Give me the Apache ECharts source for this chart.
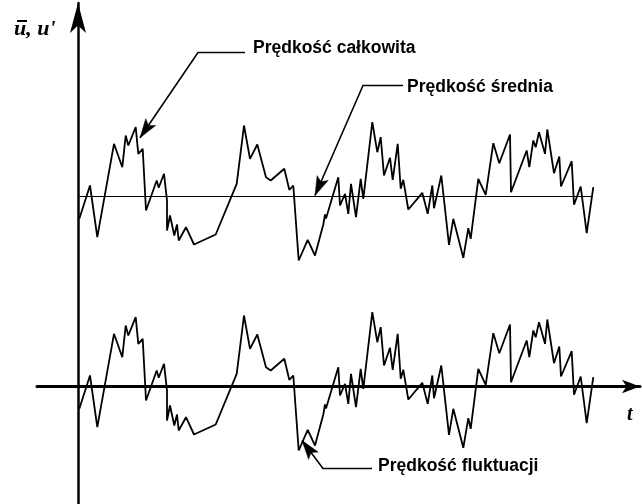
<!DOCTYPE html>
<html>
<head>
<meta charset="utf-8">
<script src="https://cdn.jsdelivr.net/npm/echarts@6/dist/echarts.min.js"></script>
<style>html,body{margin:0;padding:0;background:#fff}#c{width:642px;height:504px}</style>
</head>
<body>
<div id="c"></div>
<script>
// time samples (arbitrary units)
var times = [1.3, 12, 19.3, 36, 44.3, 47.7, 50.3, 57.7, 60.3, 64.7, 68, 78.7, 80.7, 86, 89, 89, 92, 96.3, 99, 100.7,
  108, 116, 137.7, 158.7, 166, 172, 179.3, 188, 192.7, 206.3, 211.3, 215.3, 220.7, 229.7, 237, 245.3, 247, 248,
  260.3, 262, 267, 270.3, 273, 278, 282.7, 285.3, 294.3, 299.3, 302.7, 306, 312, 314.7, 319.7, 322.7, 325.3,
  330.3, 344.3, 349.7, 354.3, 356, 363.3, 371, 375.3, 385.3, 390.3, 392.7, 400.3, 407.7, 415.3, 421.3, 432, 433,
  448.7, 451.3, 455.3, 457.7, 461, 467, 469.3, 476, 481.3, 483, 493.7, 496, 502.7, 508.7, 515.3];
// total velocity u (arbitrary units)
var uTotal = [167.7, 201, 149.3, 242.7, 219.3, 251, 241, 259.3, 232.7, 237.7, 176, 206, 198.7, 212.7, 186, 156, 171, 151, 162, 146,
  159.3, 142, 152, 202.7, 261, 227.7, 242, 209.3, 206, 217.7, 196.7, 201, 126, 146.7, 131, 162, 172, 168,
  209.3, 181, 192.7, 172.7, 202.7, 169.3, 207.7, 187.7, 264.3, 234.3, 249.3, 211, 228.7, 206.7, 242.7, 197.7, 206.7,
  177, 193.7, 172.7, 201, 178.3, 211, 141.7, 167.7, 128.7, 158.3, 147.7, 207.7, 191.7, 243.3, 223.3, 252, 194.3,
  236, 219.3, 246, 239.3, 254.3, 232.7, 257, 213.3, 230, 200, 225.3, 181.7, 200, 153.3, 199.3];
// mean velocity
var uMean = 190;
var meanSpan = [0, 514];

// annotation labels and leader lines (data units)
var annLabels = ['Prędkość całkowita', 'Prędkość średnia', 'Prędkość fluktuacji'];
var annTextAt = [[175, 338], [329, 299], [300, -80]];
var annLeaders = [
  [[167, 334], [120, 334], [62, 248.7]],
  [[325, 301], [285, 301], [237, 191]],
  [[294, -82], [245, -82], [224, -54]]
];
var axisNames = ['u, u\'', 't'];

var totalData = times.map(function (t, i) { return [t, uTotal[i]]; });
var fluctData = times.map(function (t, i) { return [t, uTotal[i] - uMean]; });
var meanData = meanSpan.map(function (t) { return [t, uMean]; });

var chart = echarts.init(document.getElementById('c'), null, {renderer: 'canvas'});
chart.setOption({
  animation: false,
  backgroundColor: '#fff',
  grid: {left: 37, right: 2, top: 3, bottom: 0, containLabel: false},
  xAxis: {
    type: 'value', min: -41, max: 562,
    axisLine: {onZero: true, symbol: ['none', 'arrow'], symbolSize: [10, 18], lineStyle: {color: '#000', width: 3}},
    axisTick: {show: false}, axisLabel: {show: false}, splitLine: {show: false}
  },
  yAxis: {
    type: 'value', min: -117.5, max: 383.5,
    axisLine: {onZero: true, symbol: ['none', 'arrow'], symbolSize: [12, 30], lineStyle: {color: '#000', width: 2.5}},
    axisTick: {show: false}, axisLabel: {show: false}, splitLine: {show: false}
  },
  series: [
    {type: 'line', data: meanData, symbol: 'none', lineStyle: {color: '#000', width: 1}, z: 2},
    {type: 'line', data: totalData, symbol: 'none', lineStyle: {color: '#000', width: 1.8}, z: 3},
    {type: 'line', data: fluctData, symbol: 'none', lineStyle: {color: '#000', width: 1.8}, z: 3}
  ]
});

var g = [];
annLeaders.forEach(function (pts) {
  var px = pts.map(function (p) { return chart.convertToPixel({gridIndex: 0}, p); });
  g.push({type: 'polyline', shape: {points: px}, style: {stroke: '#000', lineWidth: 1.6, fill: null}, z: 10});
  var a = px[px.length - 2], b = px[px.length - 1];
  var dx = b[0] - a[0], dy = b[1] - a[1], L = Math.sqrt(dx * dx + dy * dy);
  var ux = dx / L, uy = dy / L, len = 19, hw = 6;
  var bx = b[0] - ux * len, by = b[1] - uy * len;
  var nx = b[0] - ux * (len - 4), ny = b[1] - uy * (len - 4);
  g.push({type: 'polygon', shape: {points: [b, [bx - uy * hw, by + ux * hw], [nx, ny], [bx + uy * hw, by - ux * hw]]},
    style: {fill: '#000', stroke: '#000', lineWidth: 0.5}, z: 11});
});
annLabels.forEach(function (s, i) {
  var p = chart.convertToPixel({gridIndex: 0}, annTextAt[i]);
  g.push({type: 'text', x: p[0], y: p[1], style: {text: s, fill: '#000', font: 'bold 17.5px "Liberation Sans", Arial, sans-serif',
    textAlign: 'left', textVerticalAlign: 'middle'}, z: 12});
});
var serif = '"Liberation Serif", "Times New Roman", serif';
g.push({type: 'text', x: 14, y: 18, style: {text: axisNames[0], fill: '#000', font: 'italic bold 22px ' + serif,
  textAlign: 'left', textVerticalAlign: 'top'}, z: 12});
g.push({type: 'line', shape: {x1: 17, y1: 21, x2: 27, y2: 21}, style: {stroke: '#000', lineWidth: 2}, z: 12});
g.push({type: 'text', x: 627, y: 405, style: {text: axisNames[1], fill: '#000', font: 'italic bold 20px ' + serif,
  textAlign: 'left', textVerticalAlign: 'top'}, z: 12});
chart.setOption({graphic: g});
</script>
</body>
</html>
